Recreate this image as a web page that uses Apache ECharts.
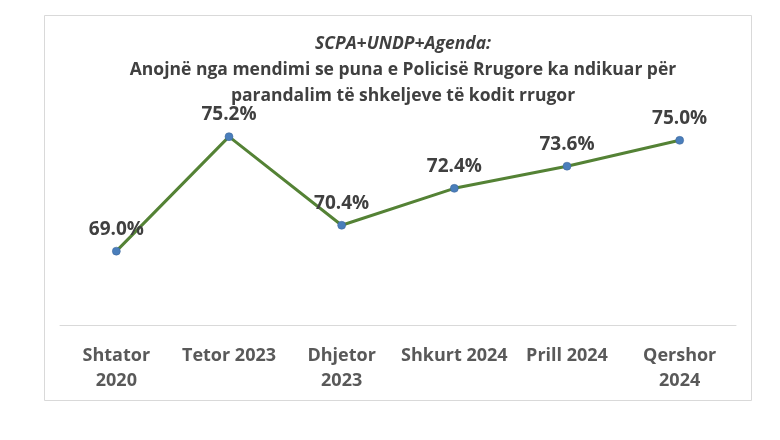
<!DOCTYPE html>
<html><head><meta charset="utf-8">
<script src="https://cdn.jsdelivr.net/npm/echarts@6/dist/echarts.min.js"></script>
<style>html,body{margin:0;padding:0;background:#fff}#c{width:780px;height:440px}</style>
</head><body><div id="c"></div>
<script>
const categories = ["Shtator\n2020", "Tetor 2023", "Dhjetor\n2023", "Shkurt 2024", "Prill 2024", "Qershor\n2024"];
const values = [69.0, 75.2, 70.4, 72.4, 73.6, 75.0];
const titleLine1 = "SCPA+UNDP+Agenda:";
const titleLine2 = "Anojnë nga mendimi se puna e Policisë Rrugore ka ndikuar për";
const titleLine3 = "parandalim të shkeljeve të kodit rrugor";

const narrow = "'Liberation Sans Narrow', 'Open Sans', sans-serif";
const chart = echarts.init(document.getElementById('c'));
chart.setOption({
  backgroundColor: '#fff',
  animation: false,
  graphic: [
    { type: 'rect', shape: { x: 44.5, y: 15.5, width: 707, height: 385 },
      style: { fill: 'none', stroke: '#d9d9d9', lineWidth: 1 }, z: -1 }
  ],
  title: {
    text: '{i|' + titleLine1 + '}\n' + titleLine2 + '\n' + titleLine3,
    left: 398, top: 26, textAlign: 'center',
    textStyle: {
      fontFamily: narrow, fontWeight: 'bold', fontSize: 17.5, color: '#404040', lineHeight: 26,
      rich: { i: { fontFamily: narrow, fontWeight: 'bold', fontStyle: 'italic', fontSize: 17.5, color: '#404040', lineHeight: 26 } }
    }
  },
  grid: { left: 60, right: 44, top: 48, bottom: 115 },
  xAxis: {
    type: 'category', data: categories, boundaryGap: true,
    axisLine: { show: true, lineStyle: { color: '#d9d9d9', width: 1 } },
    axisTick: { show: false },
    axisLabel: { fontFamily: narrow, fontWeight: 'bold', fontSize: 18, color: '#595959', lineHeight: 25, margin: 18, interval: 0 }
  },
  yAxis: { type: 'value', min: 65, max: 80, show: false, splitLine: { show: false } },
  series: [{
    type: 'line', data: values,
    lineStyle: { color: '#548235', width: 3 },
    symbol: 'circle', symbolSize: 8,
    itemStyle: { color: '#4a7ebb', borderColor: '#3a6296', borderWidth: 0.5 },
    label: {
      show: true, position: 'top', distance: 8,
      formatter: p => p.value.toFixed(1) + '%',
      fontFamily: "'Open Sans', sans-serif", fontWeight: 'bold', fontSize: 19, color: '#404040'
    }
  }]
});
</script></body></html>
